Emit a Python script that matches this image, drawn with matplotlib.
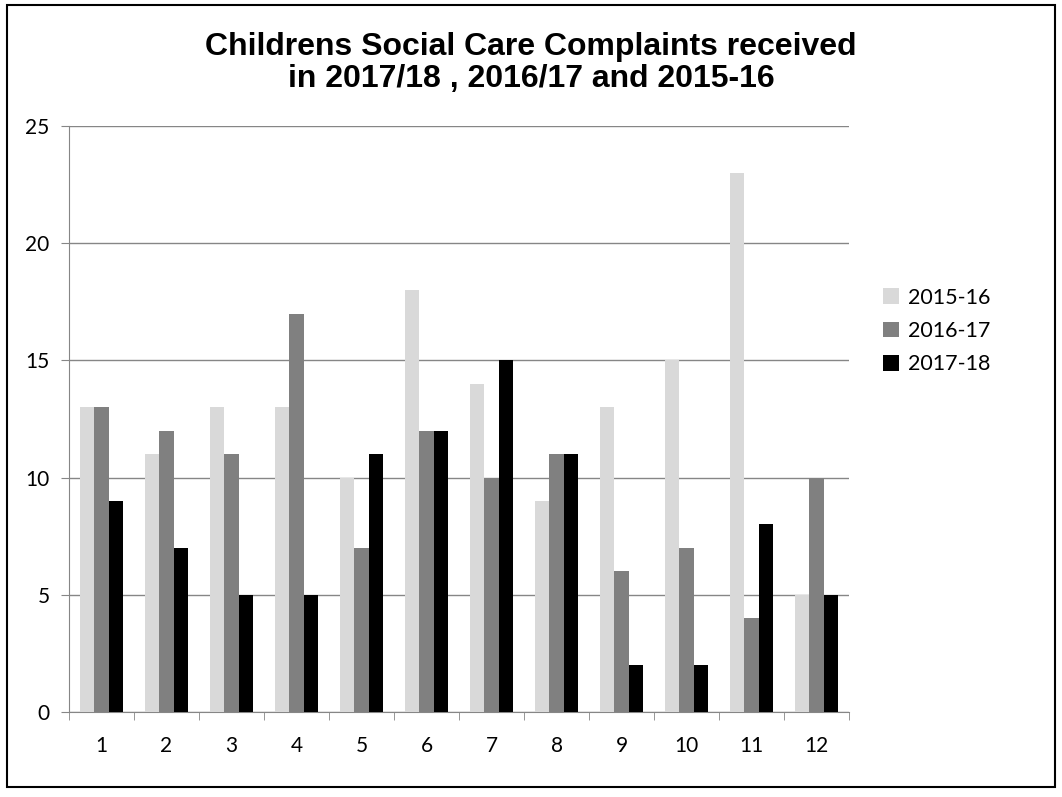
import numpy as np
import matplotlib
matplotlib.use('Agg')
import matplotlib.pyplot as plt
from matplotlib.patches import Rectangle

categories = [str(i) for i in range(1, 13)]
series_names = ['2015-16', '2016-17', '2017-18']
vals_1516 = [13, 11, 13, 13, 10, 18, 14, 9, 13, 15, 23, 5]
vals_1617 = [13, 12, 11, 17, 7, 12, 10, 11, 6, 7, 4, 10]
vals_1718 = [9, 7, 5, 5, 11, 12, 15, 11, 2, 2, 8, 5]
colors = ['#d9d9d9', '#808080', '#000000']

plt.rcParams['font.family'] = ['Lato', 'DejaVu Sans']

fig = plt.figure(figsize=(10.62, 7.97), dpi=100)
ax = fig.add_axes([69 / 1062, 1 - 712 / 797, (849 - 69) / 1062, (712 - 126) / 797])

# outer chart border
fig.patches.append(Rectangle((7 / 1062, 1 - 787 / 797), 1048 / 1062, 782 / 797,
                             transform=fig.transFigure, fill=False,
                             edgecolor='black', linewidth=1.5))

x = np.arange(len(categories))
w = 0.22
for i, (vals, name) in enumerate(zip([vals_1516, vals_1617, vals_1718], series_names)):
    ax.bar(x + (i - 1) * w, vals, width=w, color=colors[i], label=name, zorder=3)

ax.set_xlim(-0.5, len(categories) - 0.5)
ax.set_ylim(0, 25)
ax.set_yticks(range(0, 26, 5))
ax.set_xticks(x)
ax.set_xticklabels(categories)
ax.set_xticks(np.arange(-0.5, len(categories)), minor=True)
ax.tick_params(axis='x', which='major', length=0, pad=17, labelsize=15)
ax.tick_params(axis='x', which='minor', length=6, color='#868686', direction='out')
ax.tick_params(axis='y', length=6, color='#868686', labelsize=15, pad=8)
ax.grid(axis='y', color='#868686', linewidth=1, zorder=0)
for s in ['top', 'right']:
    ax.spines[s].set_visible(False)
ax.spines['left'].set_color('#868686')
ax.spines['bottom'].set_color('#868686')

fig.text(531 / 1062, 1 - 63 / 797,
         'Childrens Social Care Complaints received\nin 2017/18 , 2016/17 and 2015-16',
         ha='center', va='center', fontsize=23, fontweight='bold',
         family='Liberation Sans', linespacing=1.1)

ax.legend(loc='center left', bbox_to_anchor=(1.043, 0.65), frameon=False,
          fontsize=15.5, handlelength=0.75, handleheight=0.75, labelspacing=0.62,
          handletextpad=0.45, borderpad=0, borderaxespad=0)

fig.savefig('out.png', dpi=100)
